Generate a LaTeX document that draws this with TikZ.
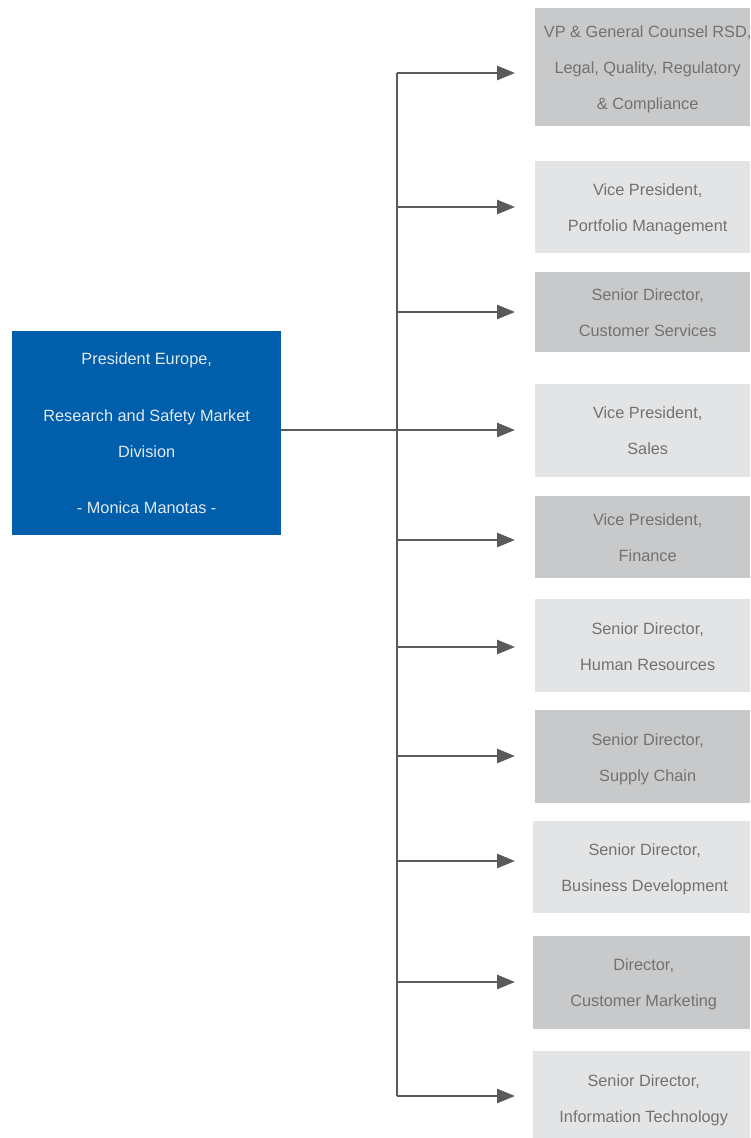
\documentclass[tikz,border=0pt]{standalone}
\usepackage{fontspec}
\setmainfont{Liberation Sans}
\usetikzlibrary{arrows.meta,calc}
\definecolor{darkbox}{HTML}{C8C9CA}
\definecolor{lightbox}{HTML}{E3E4E5}
\definecolor{bluebox}{HTML}{005EAA}
\definecolor{txtgray}{HTML}{727272}
\definecolor{bluetxt}{HTML}{E2EAF3}
\definecolor{linegray}{HTML}{5A5A5A}
\begin{document}
\begin{tikzpicture}[x=1pt,y=-1pt,
  boxbase/.style={draw=none,inner sep=0pt,anchor=north west},
  darkrole/.style={boxbase,fill=darkbox},
  lightrole/.style={boxbase,fill=lightbox},
  roletxt/.style={text=txtgray,align=center,inner sep=0pt,font=\fontsize{16.3}{36}\selectfont},
  conn/.style={draw=linegray,line width=2.7pt},
  arr/.style={conn,-{Triangle[length=18pt,width=14pt]},shorten >=20pt}
]
\useasboundingbox (0,0) rectangle (750,1138);

% president box
\node[boxbase,fill=bluebox,minimum width=269pt,minimum height=204pt] (pres) at (12,331) {};
\node[align=center,text=bluetxt,inner sep=0pt,font=\fontsize{16.3}{36}\selectfont] at ([yshift=0pt]pres.center)
  {President Europe,\\[21pt] Research and Safety Market\\ Division\\[20pt] - Monica Manotas -};

% role boxes
\node[darkrole, minimum width=215pt,minimum height=118pt] (b1) at (535,8) {};
\node[lightrole,minimum width=215pt,minimum height=92pt]  (b2) at (535,161) {};
\node[darkrole, minimum width=215pt,minimum height=80pt]  (b3) at (535,272) {};
\node[lightrole,minimum width=215pt,minimum height=93pt]  (b4) at (535,384) {};
\node[darkrole, minimum width=215pt,minimum height=82pt]  (b5) at (535,496) {};
\node[lightrole,minimum width=215pt,minimum height=93pt]  (b6) at (535,599) {};
\node[darkrole, minimum width=215pt,minimum height=93pt]  (b7) at (535,710) {};
\node[lightrole,minimum width=217pt,minimum height=92pt]  (b8) at (533,821) {};
\node[darkrole, minimum width=217pt,minimum height=93pt]  (b9) at (533,936) {};
\node[lightrole,minimum width=217pt,minimum height=87pt]  (b10) at (533,1051) {};

\node[roletxt] at ([xshift=5pt,yshift=-2pt]b1.center) {VP \& General Counsel RSD,\\ Legal, Quality, Regulatory\\ \& Compliance};
\node[roletxt] at ([xshift=5pt,yshift=-2pt]b2.center) {Vice President,\\ Portfolio Management};
\node[roletxt] at ([xshift=5pt,yshift=0pt]b3.center) {Senior Director,\\ Customer Services};
\node[roletxt] at ([xshift=5pt,yshift=0pt]b4.center) {Vice President,\\ Sales};
\node[roletxt] at ([xshift=5pt,yshift=0pt]b5.center) {Vice President,\\ Finance};
\node[roletxt] at ([xshift=5pt,yshift=-0.5pt]b6.center) {Senior Director,\\ Human Resources};
\node[roletxt] at ([xshift=5pt,yshift=-3pt]b7.center) {Senior Director,\\ Supply Chain};
\node[roletxt] at ([xshift=3pt,yshift=-2pt]b8.center) {Senior Director,\\ Business Development};
\node[roletxt] at ([xshift=2pt,yshift=-2pt]b9.center) {Director,\\ Customer Marketing};
\node[roletxt] at ([xshift=2pt,yshift=-6pt]b10.center) {Senior Director,\\ Information Technology};

% bus coordinates
\coordinate (t1) at (397,73);
\coordinate (t2) at (397,207);
\coordinate (t3) at (397,312);
\coordinate (t4) at (397,430);
\coordinate (t5) at (397,540);
\coordinate (t6) at (397,647);
\coordinate (t7) at (397,756);
\coordinate (t8) at (397,861);
\coordinate (t9) at (397,982);
\coordinate (t10) at (397,1096);

\draw[conn] (t1) -- (t10);
\draw[conn] (pres.east |- t4) -- (t4);
\foreach \i in {1,...,7} {
  \draw[arr] (t\i) -- (t\i -| b\i.west);
}
\foreach \i in {8,9,10} {
  \draw[arr,shorten >=18pt] (t\i) -- (t\i -| b\i.west);
}
\end{tikzpicture}
\end{document}
